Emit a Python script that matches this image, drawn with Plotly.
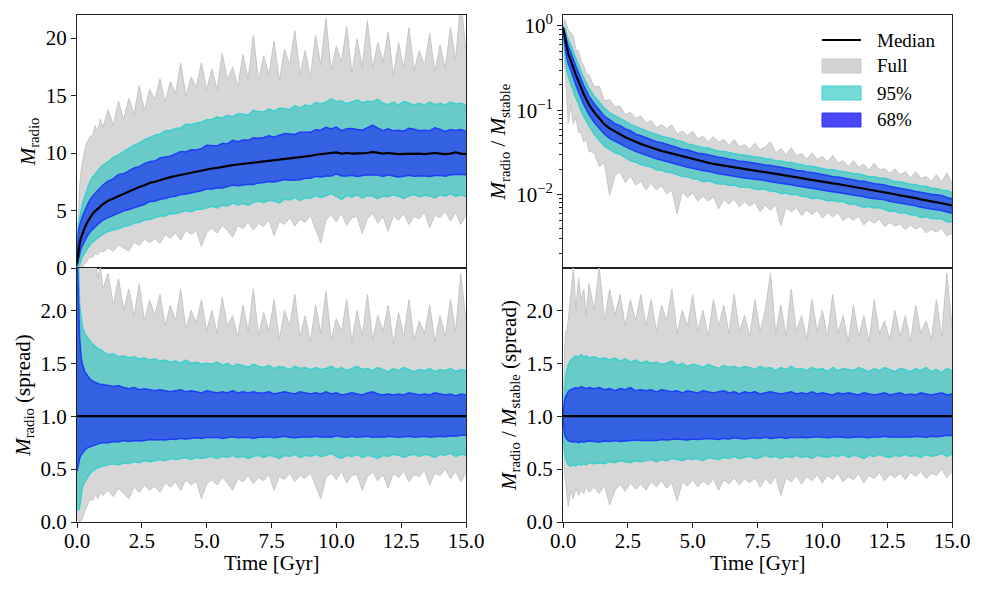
import numpy as np
import plotly.graph_objects as go

# ---------------- data ----------------
T = [0.0, 0.03, 0.06, 0.1, 0.15, 0.2, 0.3, 0.4, 0.5, 0.6, 0.7, 0.8, 0.9, 1.0,
     1.2, 1.4, 1.6, 1.8, 2.0, 2.2, 2.4, 2.6, 2.8, 3.0,
     3.2, 3.4, 3.6, 3.8, 4.0, 4.2, 4.4, 4.6, 4.8, 5.0,
     5.2, 5.4, 5.6, 5.8, 6.0, 6.2, 6.4, 6.6, 6.8, 7.0,
     7.2, 7.4, 7.6, 7.8, 8.0, 8.2, 8.4, 8.6, 8.8, 9.0,
     9.2, 9.4, 9.6, 9.8, 10.0, 10.2, 10.4, 10.6, 10.8, 11.0,
     11.2, 11.4, 11.6, 11.8, 12.0, 12.2, 12.4, 12.6, 12.8, 13.0,
     13.2, 13.4, 13.6, 13.8, 14.0, 14.2, 14.4, 14.6, 14.8, 15.0]

# Median M_radio (left column)
MED_L = [0.4, 1.0, 1.6, 2.1, 2.6, 2.95, 3.5, 4.0, 4.4, 4.7, 4.95, 5.15, 5.35, 5.55,
         5.85, 6.05, 6.3, 6.45, 6.7, 6.85, 7.05, 7.2, 7.4, 7.5,
         7.65, 7.8, 7.9, 8.0, 8.1, 8.2, 8.3, 8.35, 8.5, 8.6,
         8.65, 8.7, 8.8, 8.85, 8.95, 9.0, 9.05, 9.1, 9.2, 9.25,
         9.3, 9.35, 9.4, 9.45, 9.5, 9.55, 9.6, 9.6, 9.7, 9.75,
         9.85, 9.9, 9.95, 10.0, 10.05, 9.95, 10.0, 9.95, 9.95, 9.98,
         10.0, 10.1, 10.05, 9.95, 10.0, 9.95, 9.9, 9.92, 9.95, 9.98,
         9.95, 9.9, 9.95, 10.0, 9.95, 9.9, 9.95, 10.05, 9.95, 9.9]

# Median M_radio / M_stable (right column)
MED_R = [0.95, 0.85, 0.75, 0.64, 0.54, 0.47, 0.39, 0.31, 0.26, 0.22, 0.18, 0.155, 0.135, 0.117,
         0.095, 0.08, 0.068, 0.061, 0.056, 0.052, 0.048, 0.045, 0.042, 0.040,
         0.038, 0.036, 0.0345, 0.033, 0.0318, 0.0305, 0.0294, 0.0283, 0.0272, 0.0262,
         0.0254, 0.0246, 0.0239, 0.0232, 0.0226, 0.0220, 0.0215, 0.0210, 0.0205, 0.0201,
         0.0197, 0.0193, 0.0189, 0.0184, 0.0180, 0.0176, 0.0172, 0.0168, 0.0164, 0.0160,
         0.0157, 0.0153, 0.0149, 0.0146, 0.0142, 0.0139, 0.0136, 0.0133, 0.0130, 0.0127,
         0.0124, 0.0121, 0.0118, 0.0115, 0.0112, 0.0110, 0.0107, 0.0104, 0.0101, 0.0098,
         0.0096, 0.0093, 0.0091, 0.0088, 0.0086, 0.0084, 0.0082, 0.0080, 0.0077, 0.0074]

# ---- left column spreads (band / median) ----
L_FULL_HI = [3.6, 3.5, 3.4, 3.3, 3.2, 3.1, 2.95, 2.75, 2.6, 2.45, 2.5, 2.3, 2.42, 2.2,
             2.35, 2.05, 2.3, 2.0, 2.2, 1.95, 2.25, 1.9, 2.1, 1.95,
             2.15, 1.85, 2.05, 1.9, 2.2, 1.82, 2.0, 1.88, 2.1, 1.8,
             2.0, 1.78, 2.12, 1.85, 1.95, 1.75, 2.05, 1.8, 2.2, 1.76,
             1.98, 1.8, 2.1, 1.72, 2.0, 1.85, 2.15, 1.75, 1.95, 1.7,
             2.05, 1.78, 2.18, 1.72, 1.92, 1.8, 2.1, 1.7, 2.0, 1.75,
             2.15, 1.72, 1.95, 1.8, 2.05, 1.68, 1.98, 1.75, 2.1, 1.72,
             1.9, 1.78, 2.05, 1.7, 1.95, 1.75, 2.1, 1.8, 2.35, 1.9]
L_FULL_LO = [0.03, 0.02, 0.01, 0.0, 0.01, 0.03, 0.1, 0.16, 0.22, 0.2, 0.26, 0.22, 0.28, 0.25,
             0.3, 0.24, 0.32, 0.27, 0.22, 0.33, 0.28, 0.35, 0.3, 0.34,
             0.28, 0.37, 0.33, 0.38, 0.3, 0.4, 0.35, 0.39, 0.22, 0.36,
             0.4, 0.35, 0.42, 0.37, 0.3, 0.41, 0.38, 0.44, 0.36, 0.42,
             0.39, 0.45, 0.3, 0.43, 0.4, 0.46, 0.38, 0.44, 0.41, 0.47,
             0.35, 0.22, 0.42, 0.46, 0.4, 0.48, 0.37, 0.44, 0.45, 0.3,
             0.43, 0.47, 0.39, 0.45, 0.32, 0.46, 0.42, 0.48, 0.38, 0.45,
             0.43, 0.49, 0.35, 0.46, 0.44, 0.5, 0.41, 0.48, 0.38, 0.47]
L_95_HI = [3.0, 2.8, 2.45, 2.05, 1.92, 1.85, 1.78, 1.74, 1.71, 1.68, 1.66, 1.64, 1.63, 1.61,
           1.58, 1.59, 1.56, 1.57, 1.55, 1.56, 1.54, 1.55, 1.53, 1.54,
           1.52, 1.53, 1.51, 1.52, 1.5, 1.53, 1.5, 1.51, 1.49, 1.5,
           1.49, 1.51, 1.48, 1.5, 1.47, 1.49, 1.48, 1.46, 1.49, 1.47,
           1.46, 1.48, 1.45, 1.47, 1.46, 1.44, 1.47, 1.45, 1.46, 1.44,
           1.46, 1.44, 1.45, 1.47, 1.44, 1.46, 1.43, 1.45, 1.47, 1.44,
           1.45, 1.43, 1.46, 1.44, 1.42, 1.45, 1.43, 1.46, 1.44, 1.42,
           1.44, 1.43, 1.45, 1.42, 1.44, 1.43, 1.45, 1.42, 1.44, 1.43]
L_95_LO = [0.2, 0.14, 0.11, 0.13, 0.22, 0.32, 0.38, 0.42, 0.46, 0.48, 0.5, 0.51, 0.52, 0.53,
           0.54, 0.55, 0.54, 0.56, 0.55, 0.57, 0.56, 0.58, 0.57, 0.58,
           0.59, 0.58, 0.6, 0.59, 0.6, 0.61, 0.59, 0.61, 0.6, 0.61,
           0.62, 0.6, 0.62, 0.61, 0.63, 0.61, 0.62, 0.6, 0.62, 0.63,
           0.61, 0.63, 0.62, 0.6, 0.63, 0.62, 0.64, 0.61, 0.63, 0.62,
           0.64, 0.62, 0.63, 0.65, 0.62, 0.6, 0.63, 0.62, 0.64, 0.61,
           0.63, 0.62, 0.6, 0.63, 0.62, 0.64, 0.63, 0.61, 0.63, 0.64,
           0.62, 0.64, 0.63, 0.61, 0.64, 0.63, 0.65, 0.62, 0.64, 0.63]
L_68_HI = [2.6, 2.3, 2.0, 1.75, 1.58, 1.5, 1.42, 1.38, 1.35, 1.33, 1.32, 1.31, 1.3, 1.3,
           1.29, 1.28, 1.29, 1.27, 1.26, 1.27, 1.25, 1.26, 1.25, 1.24,
           1.25, 1.24, 1.23, 1.24, 1.25, 1.23, 1.24, 1.23, 1.22, 1.24,
           1.23, 1.22, 1.23, 1.22, 1.24, 1.22, 1.23, 1.22, 1.23, 1.22,
           1.22, 1.23, 1.21, 1.22, 1.23, 1.22, 1.21, 1.23, 1.22, 1.21,
           1.22, 1.21, 1.23, 1.21, 1.22, 1.20, 1.21, 1.22, 1.21, 1.20,
           1.22, 1.23, 1.21, 1.20, 1.21, 1.20, 1.21, 1.20, 1.22, 1.21,
           1.20, 1.21, 1.20, 1.22, 1.21, 1.20, 1.21, 1.19, 1.21, 1.20]
L_68_LO = [0.48, 0.52, 0.56, 0.6, 0.63, 0.65, 0.68, 0.7, 0.71, 0.72, 0.73, 0.74, 0.745, 0.75,
           0.75, 0.76, 0.755, 0.77, 0.76, 0.77, 0.765, 0.77, 0.78, 0.775,
           0.78, 0.775, 0.785, 0.78, 0.79, 0.785, 0.79, 0.795, 0.79, 0.8,
           0.795, 0.8, 0.79, 0.8, 0.805, 0.795, 0.8, 0.8, 0.79, 0.8,
           0.8, 0.805, 0.795, 0.8, 0.81, 0.8, 0.795, 0.8, 0.805, 0.8,
           0.81, 0.8, 0.805, 0.8, 0.815, 0.805, 0.8, 0.81, 0.8, 0.805,
           0.81, 0.8, 0.805, 0.8, 0.81, 0.805, 0.8, 0.805, 0.81, 0.8,
           0.805, 0.81, 0.8, 0.805, 0.81, 0.805, 0.815, 0.81, 0.82, 0.82]

# ---- right column spreads (band / median) ----
R_FULL_HI = [1.0, 1.4, 1.6, 1.8, 1.82, 1.9, 2.15, 2.4, 2.0, 2.3, 2.1, 2.2, 1.95, 2.25,
             2.0, 2.4, 1.9, 2.2, 1.95, 2.15, 1.85, 2.1, 1.9, 2.15,
             1.85, 2.1, 1.8, 2.05, 1.9, 2.2, 1.78, 2.0, 1.85, 2.15,
             1.8, 2.0, 1.75, 2.1, 1.85, 2.05, 1.78, 2.15, 1.8, 1.95,
             1.75, 2.1, 1.8, 2.0, 2.35, 1.78, 2.05, 1.75, 2.2, 1.8,
             1.95, 1.72, 2.1, 1.8, 2.0, 1.75, 2.15, 1.78, 1.95, 1.7,
             2.05, 1.75, 1.95, 1.7, 2.1, 1.78, 1.9, 1.72, 2.0, 1.75,
             1.95, 1.7, 2.05, 1.78, 1.9, 1.72, 2.1, 1.75, 2.35, 1.85]
R_FULL_LO = [1.0, 0.6, 0.45, 0.4, 0.25, 0.15, 0.3, 0.22, 0.32, 0.25, 0.3, 0.27, 0.34, 0.28,
             0.33, 0.27, 0.35, 0.16, 0.3, 0.36, 0.29, 0.37, 0.31, 0.36,
             0.3, 0.38, 0.33, 0.39, 0.32, 0.37, 0.2, 0.38, 0.34, 0.4,
             0.33, 0.39, 0.35, 0.41, 0.3, 0.4, 0.36, 0.42, 0.35, 0.41,
             0.37, 0.42, 0.33, 0.41, 0.36, 0.43, 0.25, 0.42, 0.38, 0.44,
             0.36, 0.43, 0.39, 0.45, 0.37, 0.44, 0.4, 0.46, 0.38, 0.43,
             0.4, 0.46, 0.37, 0.44, 0.41, 0.47, 0.39, 0.45, 0.42, 0.46,
             0.4, 0.47, 0.43, 0.48, 0.41, 0.46, 0.44, 0.5, 0.42, 0.47]
R_95_HI = [1.0, 1.15, 1.27, 1.36, 1.43, 1.48, 1.53, 1.55, 1.57, 1.56, 1.58, 1.56, 1.57, 1.55,
           1.56, 1.54, 1.55, 1.53, 1.55, 1.52, 1.54, 1.51, 1.53, 1.5,
           1.52, 1.5, 1.51, 1.49, 1.5, 1.52, 1.48, 1.5, 1.47, 1.49,
           1.48, 1.46, 1.49, 1.47, 1.45, 1.48, 1.46, 1.47, 1.45, 1.47,
           1.46, 1.44, 1.47, 1.45, 1.46, 1.43, 1.46, 1.44, 1.47, 1.44,
           1.45, 1.43, 1.46, 1.44, 1.45, 1.42, 1.46, 1.43, 1.45, 1.44,
           1.43, 1.46, 1.44, 1.42, 1.45, 1.43, 1.46, 1.44, 1.42, 1.45,
           1.44, 1.42, 1.45, 1.43, 1.46, 1.42, 1.44, 1.41, 1.45, 1.43]
R_95_LO = [1.0, 0.8, 0.68, 0.6, 0.56, 0.54, 0.53, 0.54, 0.53, 0.55, 0.54, 0.55, 0.54, 0.56,
           0.55, 0.56, 0.55, 0.57, 0.56, 0.58, 0.57, 0.56, 0.58, 0.57,
           0.58, 0.59, 0.57, 0.59, 0.58, 0.6, 0.59, 0.58, 0.6, 0.59,
           0.6, 0.58, 0.61, 0.6, 0.59, 0.61, 0.6, 0.62, 0.6, 0.61,
           0.62, 0.6, 0.61, 0.63, 0.61, 0.62, 0.6, 0.62, 0.61, 0.63,
           0.61, 0.62, 0.6, 0.63, 0.62, 0.61, 0.63, 0.62, 0.64, 0.61,
           0.63, 0.62, 0.6, 0.63, 0.62, 0.64, 0.62, 0.61, 0.63, 0.62,
           0.64, 0.62, 0.63, 0.61, 0.64, 0.62, 0.63, 0.65, 0.62, 0.64]
R_68_HI = [1.0, 1.08, 1.14, 1.18, 1.21, 1.23, 1.25, 1.26, 1.27, 1.26, 1.28, 1.27, 1.26, 1.27,
           1.26, 1.27, 1.25, 1.26, 1.24, 1.26, 1.25, 1.27, 1.24, 1.25,
           1.24, 1.25, 1.23, 1.25, 1.24, 1.23, 1.24, 1.22, 1.24, 1.23,
           1.22, 1.24, 1.23, 1.22, 1.23, 1.24, 1.22, 1.23, 1.21, 1.23,
           1.22, 1.23, 1.21, 1.22, 1.23, 1.22, 1.21, 1.22, 1.23, 1.21,
           1.22, 1.21, 1.23, 1.21, 1.22, 1.21, 1.2, 1.22, 1.21, 1.22,
           1.21, 1.2, 1.22, 1.21, 1.2, 1.21, 1.22, 1.2, 1.21, 1.22,
           1.2, 1.21, 1.2, 1.22, 1.21, 1.2, 1.21, 1.22, 1.2, 1.21]
R_68_LO = [1.0, 0.9, 0.84, 0.8, 0.78, 0.77, 0.76, 0.755, 0.76, 0.75, 0.76, 0.755, 0.76, 0.765,
           0.76, 0.755, 0.765, 0.76, 0.77, 0.76, 0.765, 0.77, 0.775, 0.77,
           0.77, 0.775, 0.77, 0.78, 0.775, 0.78, 0.785, 0.78, 0.775, 0.785,
           0.78, 0.785, 0.79, 0.785, 0.78, 0.79, 0.785, 0.795, 0.79, 0.785,
           0.79, 0.795, 0.79, 0.8, 0.79, 0.795, 0.8, 0.79, 0.8, 0.795,
           0.8, 0.795, 0.8, 0.805, 0.8, 0.795, 0.8, 0.805, 0.8, 0.795,
           0.8, 0.805, 0.8, 0.795, 0.805, 0.8, 0.81, 0.8, 0.805, 0.8,
           0.805, 0.8, 0.81, 0.805, 0.8, 0.81, 0.805, 0.81, 0.82, 0.815]

for _a in [MED_L, MED_R, L_FULL_HI, L_FULL_LO, L_95_HI, L_95_LO, L_68_HI, L_68_LO,
           R_FULL_HI, R_FULL_LO, R_95_HI, R_95_LO, R_68_HI, R_68_LO]:
    assert len(_a) == len(T), len(_a)

LEGEND_LABELS = ["Median", "Full", "95%", "68%"]
X_TITLE = "Time [Gyr]"

# ---------------- styles ----------------
FONT = "Liberation Serif"
FULL_FILL, FULL_EDGE = "#d7d7d7", "#c6c6c6"
P95_FILL, P95_EDGE = "#68cbc8", "#3dcfce"
P68_FILL, P68_EDGE = "#3562e2", "#1f3cf6"
LEG_COLORS = [("#d3d3d3", "#c8c8c8"), ("#72dcd9", "#40d0d0"), ("#4848f8", "#3434f0")]

# page has an 8px body margin: figure is placed at (8, 8)
OFF = 8
W, H = 982 - 2 * OFF, 590 - 2 * OFF
ML, MR, MT, MB = 77 - OFF, 22, 15 - OFF, 60
PW, PH = W - ML - MR, H - MT - MB


def px(x):
    return (x - OFF - ML) / PW


def py(y):
    return (OFF + H - MB - y) / PH


fig = go.Figure()

t = np.array(T)
panels = [
    ("x", "y", np.array(MED_L), (L_FULL_LO, L_FULL_HI, L_95_LO, L_95_HI, L_68_LO, L_68_HI), False),
    ("x2", "y2", np.array(MED_R), (R_FULL_LO, R_FULL_HI, R_95_LO, R_95_HI, R_68_LO, R_68_HI), False),
    ("x3", "y3", np.array(MED_L), (L_FULL_LO, L_FULL_HI, L_95_LO, L_95_HI, L_68_LO, L_68_HI), True),
    ("x4", "y4", np.array(MED_R), (R_FULL_LO, R_FULL_HI, R_95_LO, R_95_HI, R_68_LO, R_68_HI), True),
]

for xa, ya, med, spreads, is_spread in panels:
    scale = np.ones_like(med) if is_spread else med
    bands = [(spreads[0], spreads[1], FULL_FILL, FULL_EDGE, 1.0),
             (spreads[2], spreads[3], P95_FILL, P95_EDGE, 1.5),
             (spreads[4], spreads[5], P68_FILL, P68_EDGE, 1.5)]
    for lo, hi, fillc, edge, lw in bands:
        fig.add_trace(go.Scatter(x=t, y=np.array(lo) * scale, mode="lines",
                                 line=dict(color=edge, width=lw), xaxis=xa, yaxis=ya,
                                 showlegend=False, hoverinfo="skip"))
        fig.add_trace(go.Scatter(x=t, y=np.array(hi) * scale, mode="lines", fill="tonexty",
                                 fillcolor=fillc, line=dict(color=edge, width=lw),
                                 xaxis=xa, yaxis=ya, showlegend=False, hoverinfo="skip"))
    fig.add_trace(go.Scatter(x=t, y=med / med if is_spread else med, mode="lines",
                             line=dict(color="black", width=2.2), xaxis=xa, yaxis=ya,
                             showlegend=False, hoverinfo="skip"))

# ---------------- axes ----------------
axcommon = dict(showline=True, mirror=True, linecolor="#222", linewidth=1,
                showgrid=False, zeroline=False, ticks="outside", ticklen=5,
                tickwidth=1, tickcolor="#222", automargin=False,
                tickfont=dict(family=FONT, size=21, color="black"))
XL = [0, 389 / 875]
XR = [486 / 875, 1.0]
YT = [254 / 507, 1.0]
YB = [0.0, 254 / 507]
xt = [0, 2.5, 5, 7.5, 10, 12.5, 15]
ttl = dict(family=FONT, size=21, color="black")

fig.update_layout(
    xaxis=dict(axcommon, domain=XL, anchor="y", range=[0, 15], showticklabels=False, ticks=""),
    xaxis2=dict(axcommon, domain=XR, anchor="y2", range=[0, 15], showticklabels=False, ticks=""),
    xaxis3=dict(axcommon, domain=XL, anchor="y3", range=[0, 15], tickvals=xt, tickformat=".1f",
                ticklabelstandoff=-5),
    xaxis4=dict(axcommon, domain=XR, anchor="y4", range=[0, 15], tickvals=xt, tickformat=".1f",
                ticklabelstandoff=-5),
    yaxis=dict(axcommon, domain=YT, anchor="x", range=[0, 22], tickvals=[0, 5, 10, 15, 20],
               title=dict(text="<i>M</i><sub>radio</sub>", font=ttl, standoff=4)),
    yaxis2=dict(axcommon, domain=YT, anchor="x2", type="log", range=[-2.87, 0.13],
                tickvals=[0.01, 0.1, 1],
                ticktext=["10<sup>−2</sup>", "10<sup>−1</sup>", "10<sup>0</sup>"],
                minor=dict(ticks="outside", ticklen=3, tickcolor="#222",
                           tickvals=[0.002, 0.003, 0.004, 0.005, 0.006, 0.007, 0.008, 0.009,
                                     0.02, 0.03, 0.04, 0.05, 0.06, 0.07, 0.08, 0.09,
                                     0.2, 0.3, 0.4, 0.5, 0.6, 0.7, 0.8, 0.9]),
                title=dict(text="<i>M</i><sub>radio</sub> / <i>M</i><sub>stable</sub>",
                           font=ttl, standoff=4)),
    yaxis3=dict(axcommon, domain=YB, anchor="x3", range=[0, 2.4],
                tickvals=[0, 0.5, 1.0, 1.5, 2.0], tickformat=".1f",
                title=dict(text="<i>M</i><sub>radio</sub> (spread)", font=ttl, standoff=4)),
    yaxis4=dict(axcommon, domain=YB, anchor="x4", range=[0, 2.4],
                tickvals=[0, 0.5, 1.0, 1.5, 2.0], tickformat=".1f",
                title=dict(text="<i>M</i><sub>radio</sub> / <i>M</i><sub>stable</sub> (spread)",
                           font=ttl, standoff=4)),
)

# ---------------- legend (drawn manually) and x titles ----------------
shapes = []
annotations = []
leg_y = [40, 66, 93, 120]
shapes.append(dict(type="line", xref="paper", yref="paper",
                   x0=px(822), x1=px(861), y0=py(leg_y[0]), y1=py(leg_y[0]),
                   line=dict(color="black", width=2)))
for i, (fc, ec) in enumerate(LEG_COLORS):
    yc = leg_y[i + 1]
    shapes.append(dict(type="rect", xref="paper", yref="paper",
                       x0=px(822), x1=px(861), y0=py(yc + 7), y1=py(yc - 7),
                       fillcolor=fc, line=dict(color=ec, width=1)))
for lab, yc in zip(LEGEND_LABELS, leg_y):
    annotations.append(dict(text=lab, xref="paper", yref="paper", x=px(875), y=py(yc),
                            xanchor="left", yanchor="middle", showarrow=False,
                            font=dict(family=FONT, size=19, color="black")))
for xc in [(77 + 466) / 2, (563 + 952) / 2]:
    annotations.append(dict(text=X_TITLE, xref="paper", yref="paper", x=px(xc), y=py(563),
                            xanchor="center", yanchor="middle", showarrow=False,
                            font=ttl))

fig.update_layout(
    width=W, height=H, margin=dict(l=ML, r=MR, t=MT, b=MB, autoexpand=False),
    paper_bgcolor="white", plot_bgcolor="white", showlegend=False,
    font=dict(family=FONT, size=21, color="black"),
    shapes=shapes, annotations=annotations,
)

fig.write_html("out.html")
